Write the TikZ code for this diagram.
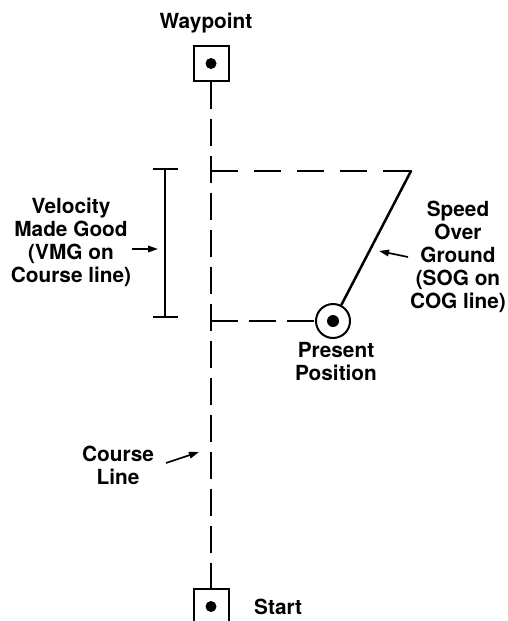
\documentclass[tikz,border=0pt]{standalone}
\usepackage{fontspec}
\setmainfont{TeX Gyre Heros}
\usetikzlibrary{arrows.meta}
\begin{document}
\begin{tikzpicture}[x=1pt,y=-1pt,
  lbl/.style={font=\bfseries\fontsize{20.8}{23}\selectfont, align=center, inner sep=0pt},
  boxsq/.style={draw, line width=2pt, minimum size=35pt, inner sep=0pt},
  ptr/.style={line width=1.7pt, -{Triangle[length=10pt,width=6.5pt]}},
  courseline/.style={line width=2.3pt, dash pattern=on 27pt off 10pt},
  topdash/.style={line width=2pt, dash pattern=on 27pt off 16pt},
  botdash/.style={line width=2pt, dash pattern=on 27pt off 11pt},
  sogline/.style={line width=2.5pt, line cap=round},
  brk/.style={line width=2pt}]
\useasboundingbox (0,0) rectangle (507,621);

% waypoint / start boxes
\node[boxsq] (wp) at (211,63.5) {};
\fill (wp.center) circle (5.5);
\node[boxsq] (st) at (211,606.5) {};
\fill (st.center) circle (5.5);

% present position
\node[draw, circle, line width=2pt, minimum size=34pt, inner sep=0pt] (pp) at (333,321) {};
\fill (pp.center) circle (6);

% course line
\draw[courseline] (wp.south) -- (st.north);

% horizontal dashed lines and SOG line
\coordinate (vmgtop) at (211,171);
\coordinate (sog) at (411,171);
\coordinate (vmgbot) at (211,321);
\draw[topdash] (vmgtop) -- (sog);
\draw[sogline] (sog) -- (pp);
\draw[botdash] (vmgbot) -- (pp);

% VMG bracket
\coordinate (vt) at (165,169);
\coordinate (vb) at (165,317);
\draw[brk] (vt) -- (vb);
\draw[brk] (vt) +(-12,0) -- +(13,0);
\draw[brk] (vb) +(-12,0) -- +(13,0);

% labels
\node[lbl, anchor=base] (wpl) at (206,28) {Waypoint};
\node[lbl, anchor=base west] (stl) at (254,614) {Start};
\node[lbl] (vmgl) at (71,242) {Velocity\\Made Good\\(VMG on\\Course line)};
\node[lbl] (sogl) at (458,257) {Speed\\Over\\Ground\\(SOG on\\COG line)};
\node[lbl] (ppl) at (336,362) {Present\\Position};
\node[lbl] (cll) at (118,465) {Course\\Line};

% pointer arrows
\coordinate (a1s) at (132,249);
\coordinate (a1e) at (158,249);
\coordinate (a2s) at (408,257);
\coordinate (a2e) at (379,251);
\coordinate (a3s) at (166,463);
\coordinate (a3e) at (199,452);
\draw[ptr] (a1s) -- (a1e);
\draw[ptr] (a2s) -- (a2e);
\draw[ptr] (a3s) -- (a3e);
\end{tikzpicture}
\end{document}
